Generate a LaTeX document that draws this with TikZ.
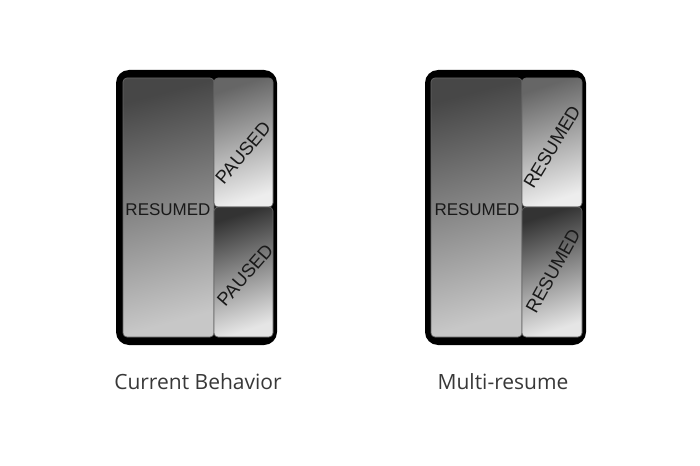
\documentclass[tikz,border=0pt]{standalone}
\usepackage{fontspec}
\setmainfont{Liberation Sans}
\newfontfamily\captionfont{Open Sans}
\usetikzlibrary{positioning}

\begin{document}
\begin{tikzpicture}[
  x=1pt, y=-1pt,
  device/.style={fill=black, rounded corners=13pt},
  pane/.style={draw=black!60, line width=0.7pt, rounded corners=4pt},
  main pane/.style={pane, top color=black!72, bottom color=black!22, shading angle=15},
  upper pane/.style={pane, top color=black!60, bottom color=black!7, shading angle=18},
  lower pane/.style={pane, top color=black!80, bottom color=black!10, shading angle=18},
  state/.style={font=\fontsize{17}{19}\selectfont, text=black!90, inner sep=0pt},
  tilted/.style={state, font=\fontsize{18.5}{20}\selectfont},
  caption/.style={font=\captionfont\fontsize{21}{24}\selectfont, text=black!78}
]
\useasboundingbox (0,0) rectangle (700,465);
\fill[white] (0,0) rectangle (700,465);

% Left panel: current behavior
\fill[device] (116,70) rectangle (277,345);
\shade[main pane] (123,78) rectangle (214,337);
\shade[upper pane] (214,78) rectangle (273,207);
\shade[lower pane] (214,207) rectangle (273,337);

\node[state] (resumedA) at (168,210) {RESUMED};
\node[tilted, rotate=50] (pausedA1) at (243,153) {PAUSED};
\node[tilted, rotate=49] (pausedA2) at (245,275) {PAUSED};

\node[caption] (currentA) at (198,382) {Current Behavior};

% Right panel: multi-resume
\begin{scope}[xshift=309pt]
  \fill[device] (116,70) rectangle (277,345);
  \shade[main pane] (122,78) rectangle (213,337);
  \shade[upper pane] (213,78) rectangle (273,207);
  \shade[lower pane] (213,207) rectangle (273,337);

  \node[state] (resumedB) at (168,210) {RESUMED};
  \node[tilted, rotate=59] (resumedB1) at (243,147) {RESUMED};
  \node[tilted, rotate=61] (resumedB2) at (244,271) {RESUMED};

  \node[caption] (multiB) at (194,382) {Multi-resume};
\end{scope}

\end{tikzpicture}
\end{document}
